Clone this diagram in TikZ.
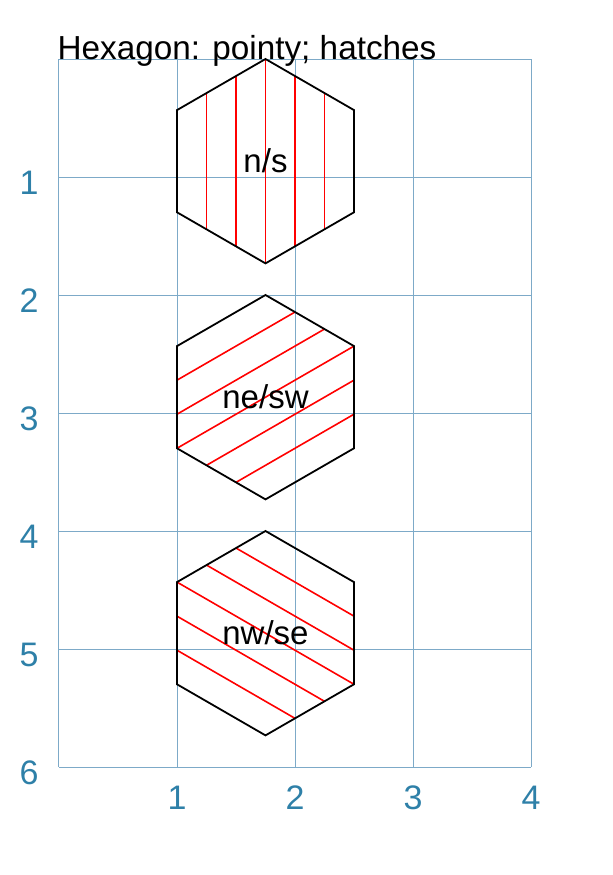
\documentclass[tikz,border=0pt]{standalone}
\usepackage{fontspec}
\setmainfont{Liberation Sans}
\definecolor{gridc}{RGB}{125,170,200}
\definecolor{axisc}{RGB}{46,128,168}
\newcommand{\hexpath}{(30:0.866) -- (90:0.866) -- (150:0.866) -- (210:0.866) -- (270:0.866) -- (330:0.866) -- cycle}
\newcommand{\drawhex}[4]{%
  \begin{scope}[shift={(1.75,#2)}]
    \begin{scope}
      \clip \hexpath;
      \begin{scope}[rotate=#3]
        \foreach \o in {-0.5,-0.25,0,0.25,0.5} \draw[hatch] (\o,-1.2) -- (\o,1.2);
      \end{scope}
    \end{scope}
    \draw[hexline] \hexpath;
    \node[hexlabel] (#1) at (0,0) {#4};
  \end{scope}}
\begin{document}
\begin{tikzpicture}[x=118pt,y=-118pt,
  gridline/.style={draw=gridc,line width=1pt},
  hexline/.style={draw=black,line width=1.8pt,line join=miter},
  hatch/.style={draw=red,line width=1.6pt},
  ticklabel/.style={text=axisc,font=\fontsize{34}{40}\selectfont,inner sep=0pt},
  hexlabel/.style={font=\fontsize{33}{40}\selectfont,inner sep=0pt}]
\useasboundingbox (-0.5,-0.5) rectangle (4.6949,6.9153);
\foreach \i in {0,...,4} \draw[gridline] (\i,0) -- (\i,6);
\foreach \j in {0,...,6} \draw[gridline] (0,\j) -- (4,\j);
\foreach \i in {1,...,6} \node[ticklabel] (yl\i) at (-0.254,\i+0.047) {\i};
\foreach \i in {1,...,4} \node[ticklabel] (xl\i) at (\i,6.258) {\i};
\node[anchor=base west,inner sep=0pt,font=\fontsize{33.3}{40}\selectfont] (title) at (-0.014,0) {Hexagon: pointy; hatches};
\drawhex{hexns}{0.866}{0}{n/s}
\drawhex{hexnesw}{2.866}{-60}{ne/sw}
\drawhex{hexnwse}{4.866}{60}{nw/se}
\end{tikzpicture}
\end{document}
